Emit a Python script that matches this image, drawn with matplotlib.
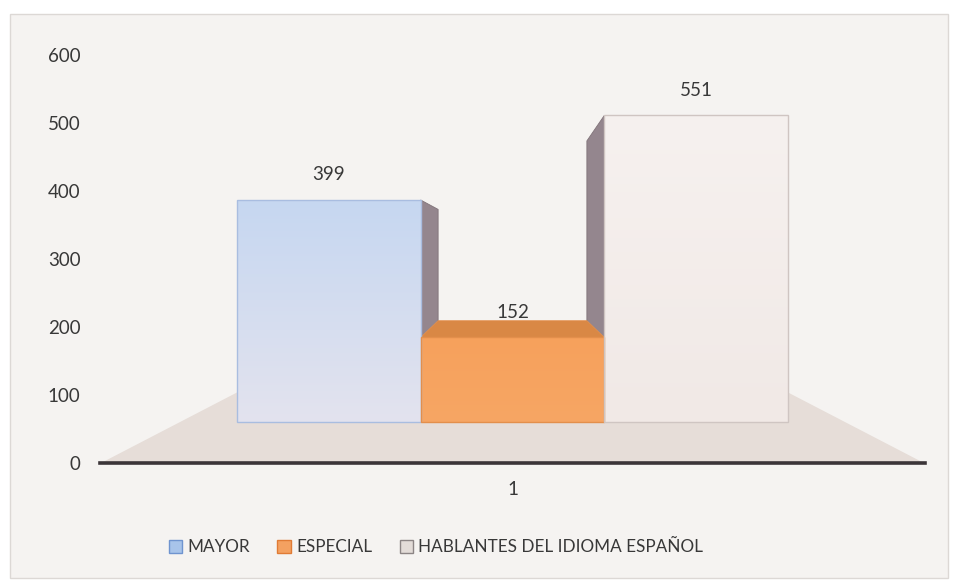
import matplotlib
matplotlib.use('Agg')
import numpy as np
import matplotlib.pyplot as plt
from matplotlib.patches import Polygon, Rectangle, Patch
from matplotlib.colors import LinearSegmentedColormap

# Datos
categorias = ['MAYOR', 'ESPECIAL', 'HABLANTES DEL IDIOMA ESPAÑOL']
valores = [399, 152, 551]
etiquetas_x = ['1']
ticks_y = [0, 100, 200, 300, 400, 500, 600]

# Colores (arriba / abajo del frente)
colores_arriba_frente = ['#c6d7f1', '#f6a15c', '#f6f1ef']
colores_abajo_frente = ['#e3e3ee', '#f7a664', '#f1e9e6']
colores_borde = ['#a9bde0', '#e38f4c', '#cfc5c2']
colores_tapa = ['#c4d2ea', '#d98845', '#e9e2df']
color_lado = '#94868e'
colores_leyenda = ['#a8c4ea', '#f4a161', '#e3dcd8']
bordes_leyenda = ['#6f94cf', '#e07b35', '#8c8585']

plt.rcParams['font.family'] = ['Lato', 'DejaVu Sans']

W, H = 956, 584
fig = plt.figure(figsize=(W / 100, H / 100), dpi=100)
fig.patch.set_facecolor('white')
fig.patches.append(Rectangle((10 / W, 1 - 578 / H), 938 / W, 564 / H,
                             transform=fig.transFigure, fc='#f5f3f1', ec='#dcd8d5', lw=1))

# Zona del grafico (pixeles)
izq, der, arriba, abajo = 100, 925, 55, 463
rect = [izq / W, 1 - abajo / H, (der - izq) / W, (abajo - arriba) / H]

# Eje con las marcas 0-600
ax = fig.add_axes(rect, zorder=3)
ax.patch.set_visible(False)
ax.set_xlim(0, 1)
ax.set_ylim(0, 600)
for s in ['top', 'left', 'right']:
    ax.spines[s].set_visible(False)
ax.spines['bottom'].set_linewidth(2.6)
ax.spines['bottom'].set_color('#3b3538')
ax.set_yticks(ticks_y)
ax.set_xticks([0.5])
ax.set_xticklabels(etiquetas_x)
ax.tick_params(axis='y', length=0, pad=14, labelsize=13.5, labelcolor='#383838')
ax.tick_params(axis='x', length=0, pad=13, labelsize=13.5, labelcolor='#383838')

# Eje de las columnas en perspectiva
px_x0, px_y0 = 237, 422          # esquina inferior izquierda de la primera columna
px_slot = (788 - 237) / 3        # ancho de una columna
px_val = 222 / 399               # pixeles por unidad
axb = fig.add_axes(rect, zorder=2)
axb.axis('off')
xlim = ((izq - px_x0) / px_slot, (der - px_x0) / px_slot)
ymin = -(abajo - px_y0) / px_val
ylim = (ymin, (px_y0 - arriba) / px_val)

vx, vy = 1.5, 310      # punto de fuga
k_atras = 0.81


def proyectar(x, y, k):
    return (vx + (x - vx) * k, vy + (y - vy) * k)


# Piso
k_frente = (ymin - vy) / (0 - vy)
piso = [proyectar(-0.31, 0, k_frente), proyectar(3.31, 0, k_frente),
        proyectar(3.31, 0, k_atras), proyectar(-0.31, 0, k_atras)]
axb.add_patch(Polygon(piso, closed=True, fc='#e6ddd8', ec='none', zorder=1))

for i, v in enumerate(valores):
    x0, x1 = i, i + 1
    if x0 > vx:
        lado = [(x0, 0), (x0, v), proyectar(x0, v, k_atras), proyectar(x0, 0, k_atras)]
        axb.add_patch(Polygon(lado, closed=True, fc=color_lado, ec='#807379', lw=0.6, zorder=2))
    if x1 < vx:
        lado = [(x1, 0), (x1, v), proyectar(x1, v, k_atras), proyectar(x1, 0, k_atras)]
        axb.add_patch(Polygon(lado, closed=True, fc=color_lado, ec='#807379', lw=0.6, zorder=2))
    if v < vy:
        tapa = [(x0, v), (x1, v), proyectar(x1, v, k_atras), proyectar(x0, v, k_atras)]
        axb.add_patch(Polygon(tapa, closed=True, fc=colores_tapa[i], ec=colores_borde[i], lw=0.6, zorder=3))

barras = axb.bar([i + 0.5 for i in range(len(valores))], valores, width=1,
                 color=colores_arriba_frente, edgecolor=colores_borde, linewidth=1, zorder=4)

grad = np.linspace(0, 1, 256).reshape(-1, 1)
for i, (p, v) in enumerate(zip(barras.patches, valores)):
    cmap = LinearSegmentedColormap.from_list('g%d' % i, [colores_abajo_frente[i], colores_arriba_frente[i]])
    im = axb.imshow(grad, cmap=cmap, origin='lower', extent=[i, i + 1, 0, v],
                    aspect='auto', zorder=4.1, interpolation='bilinear')
    im.set_clip_path(p)
    p.set_facecolor('none')
    p.set_zorder(4.2)

for i, v in enumerate(valores):
    axb.annotate(str(v), (i + 0.5, v), xytext=(0, 18), textcoords='offset points',
                 ha='center', va='center', fontsize=13.5, color='#383838', zorder=5)

axb.set_xlim(*xlim)
axb.set_ylim(*ylim)

# Leyenda
handles = [Patch(facecolor=c, edgecolor=e, lw=1) for c, e in zip(colores_leyenda, bordes_leyenda)]
fig.legend(handles, categorias, loc='center', bbox_to_anchor=(436 / W, 1 - 547 / H), ncol=3,
           frameon=False, fontsize=12.3, handlelength=0.8, handleheight=0.8,
           handletextpad=0.3, columnspacing=1.6, labelcolor='#383838')

fig.savefig('out.png', dpi=100)
